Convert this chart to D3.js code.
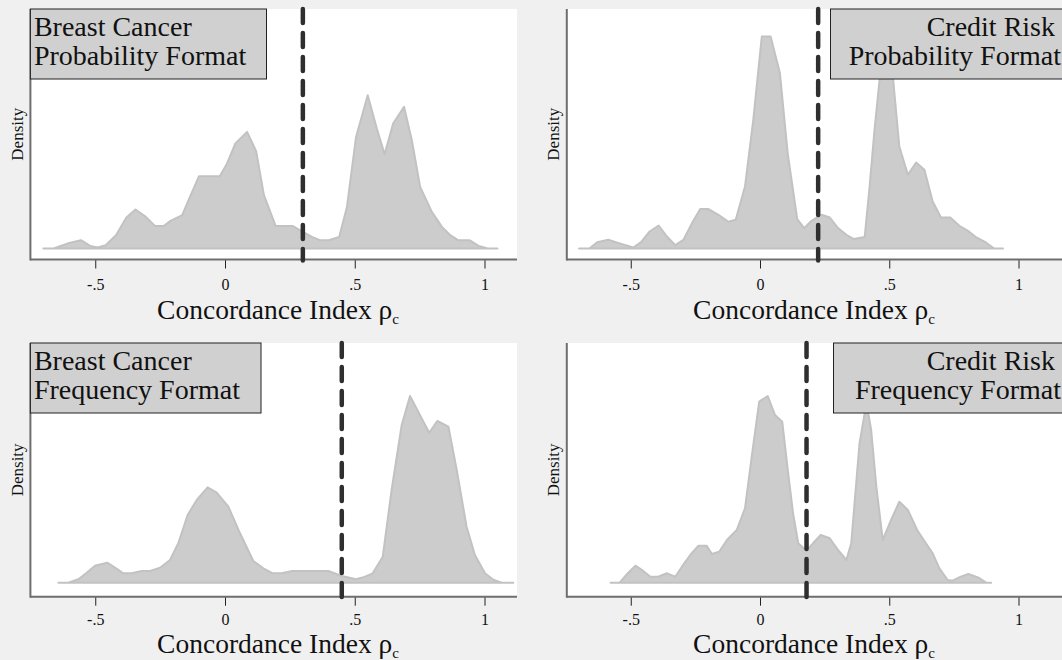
<!DOCTYPE html>
<html>
<head>
<meta charset="utf-8">
<script src="https://cdn.jsdelivr.net/npm/d3@7"></script>
<style>
  html, body { margin: 0; padding: 0; background: #f0f0f0; }
  svg { display: block; }
  text { font-family: "Liberation Serif", "Times New Roman", serif; fill: #111; }
</style>
</head>
<body>
<svg id="chart" width="1062" height="660"></svg>
<script>
// Kernel density estimates of the concordance index, one per task/format.
const bcProbX = [-0.70, -0.66, -0.60, -0.555, -0.52, -0.49, -0.46, -0.42, -0.38, -0.345, -0.305, -0.27, -0.235, -0.21, -0.165, -0.135, -0.10, -0.02, 0.008, 0.04, 0.085, 0.12, 0.15, 0.195, 0.26, 0.30, 0.335, 0.365, 0.40, 0.44, 0.47, 0.505, 0.55, 0.585, 0.615, 0.648, 0.69, 0.72, 0.752, 0.797, 0.836, 0.868, 0.898, 0.942, 0.977, 1.01, 1.05];
const bcProbDensity = [0, 0, 0.056, 0.083, 0.026, 0.01, 0.033, 0.133, 0.31, 0.39, 0.316, 0.226, 0.226, 0.276, 0.333, 0.516, 0.723, 0.723, 0.85, 1.05, 1.166, 0.973, 0.533, 0.226, 0.226, 0.166, 0.116, 0.083, 0.083, 0.116, 0.416, 1.116, 1.533, 1.20, 0.943, 1.25, 1.416, 1.083, 0.616, 0.366, 0.216, 0.133, 0.083, 0.083, 0.026, 0.003, 0];

const crProbX = [-0.70, -0.66, -0.63, -0.587, -0.546, -0.49, -0.46, -0.427, -0.392, -0.36, -0.328, -0.296, -0.263, -0.231, -0.199, -0.161, -0.122, -0.094, -0.058, -0.026, 0.007, 0.041, 0.077, 0.107, 0.144, 0.171, 0.199, 0.238, 0.27, 0.302, 0.334, 0.363, 0.405, 0.424, 0.443, 0.465, 0.49, 0.514, 0.539, 0.572, 0.604, 0.636, 0.668, 0.70, 0.736, 0.771, 0.803, 0.835, 0.874, 0.906, 0.94];
const crProbDensity = [0, 0, 0.063, 0.087, 0.054, 0.01, 0.064, 0.17, 0.23, 0.12, 0.034, 0.087, 0.254, 0.394, 0.394, 0.337, 0.267, 0.287, 0.62, 1.287, 2.12, 2.12, 1.754, 0.954, 0.294, 0.204, 0.277, 0.337, 0.31, 0.204, 0.137, 0.094, 0.114, 0.62, 1.187, 1.75, 2.05, 1.72, 1.02, 0.737, 0.86, 0.787, 0.47, 0.31, 0.31, 0.227, 0.18, 0.114, 0.06, 0, 0];

const bcFreqX = [-0.642, -0.604, -0.565, -0.533, -0.501, -0.454, -0.424, -0.392, -0.36, -0.321, -0.289, -0.25, -0.212, -0.18, -0.144, -0.109, -0.067, -0.032, 0.013, 0.058, 0.109, 0.148, 0.184, 0.218, 0.259, 0.302, 0.353, 0.398, 0.45, 0.505, 0.533, 0.569, 0.608, 0.642, 0.681, 0.713, 0.751, 0.787, 0.818, 0.861, 0.893, 0.931, 0.963, 1.002, 1.034, 1.066, 1.111];
const bcFreqDensity = [0, 0, 0.034, 0.10, 0.17, 0.20, 0.15, 0.094, 0.094, 0.117, 0.117, 0.15, 0.227, 0.394, 0.677, 0.827, 0.954, 0.90, 0.76, 0.494, 0.217, 0.144, 0.094, 0.094, 0.117, 0.117, 0.117, 0.117, 0.067, 0.034, 0.054, 0.094, 0.26, 0.927, 1.577, 1.867, 1.677, 1.50, 1.617, 1.56, 1.127, 0.56, 0.277, 0.094, 0.03, 0, 0];

const crFreqX = [-0.578, -0.543, -0.514, -0.482, -0.453, -0.424, -0.394, -0.36, -0.328, -0.302, -0.27, -0.238, -0.206, -0.186, -0.158, -0.128, -0.09, -0.058, -0.032, -0.003, 0.03, 0.058, 0.086, 0.109, 0.128, 0.148, 0.18, 0.205, 0.235, 0.27, 0.302, 0.334, 0.353, 0.385, 0.412, 0.43, 0.45, 0.475, 0.507, 0.539, 0.572, 0.608, 0.642, 0.668, 0.694, 0.726, 0.745, 0.777, 0.806, 0.843, 0.875, 0.894];
const crFreqDensity = [0, 0, 0.087, 0.17, 0.12, 0.06, 0.06, 0.094, 0.06, 0.16, 0.277, 0.37, 0.37, 0.287, 0.31, 0.427, 0.527, 0.744, 1.26, 1.81, 1.867, 1.677, 1.61, 1.094, 0.694, 0.394, 0.32, 0.394, 0.477, 0.444, 0.327, 0.227, 0.394, 1.394, 1.80, 1.527, 0.96, 0.427, 0.627, 0.81, 0.727, 0.527, 0.394, 0.294, 0.144, 0.027, 0.02, 0.06, 0.087, 0.053, 0, 0];

// Reference value drawn as the dashed vertical line in each panel.
const cutoffs = [0.30, 0.225, 0.45, 0.18];

const panelTitles = [
  ["Breast Cancer", "Probability Format"],
  ["Credit Risk", "Probability Format"],
  ["Breast Cancer", "Frequency Format"],
  ["Credit Risk", "Frequency Format"]
];

const xTicks = [-0.5, 0, 0.5, 1];
const xTickLabels = ["-.5", "0", ".5", "1"];
const xTitle = "Concordance Index ";
const yTitle = "Density";

// ---------------------------------------------------------------------------
const series = [
  { x: bcProbX, d: bcProbDensity },
  { x: crProbX, d: crProbDensity },
  { x: bcFreqX, d: bcFreqDensity },
  { x: crFreqX, d: crFreqDensity }
];

// Layout of the 2x2 grid
const cols = [
  { left: 30.4, right: 517, zero: 225, unit: 259.5, titleX: 278, labelX: 23, boxAlign: "left" },
  { left: 566.8, right: 1075, zero: 760, unit: 258.5, titleX: 814, labelX: 559, boxAlign: "right" }
];
const rows = [
  { top: 9, base: 248.5, axis: 259.5, tickY: 290, titleY: 319 },
  { top: 343, base: 582.7, axis: 596.7, tickY: 625, titleY: 653 }
];
const boxes = [
  { x0: 30.4, x1: 266.5 },
  { x0: 830.5, x1: 1075 },
  { x0: 30.4, x1: 261 },
  { x0: 833.5, x1: 1075 }
];

const svg = d3.select("#chart");
svg.append("rect").attr("width", 1062).attr("height", 660).attr("fill", "#f0f0f0");

series.forEach((s, i) => {
  const col = cols[i % 2], row = rows[Math.floor(i / 2)];
  const g = svg.append("g");

  const x = d3.scaleLinear()
    .domain([(col.left - col.zero) / col.unit, (col.right - col.zero) / col.unit])
    .range([col.left, col.right]);
  const y = d3.scaleLinear().domain([0, 2.4]).range([row.base, row.base - 240]);

  // plot region
  g.append("rect")
    .attr("x", col.left).attr("y", row.top)
    .attr("width", col.right - col.left).attr("height", row.axis - row.top)
    .attr("fill", "#ffffff");

  // density area
  const pts = s.x.map((v, k) => [v, s.d[k]]);
  const area = d3.area().x(p => x(p[0])).y0(y(0)).y1(p => y(p[1]));
  g.append("path")
    .datum(pts)
    .attr("d", area)
    .attr("fill", "#cccccc")
    .attr("stroke", "#c2c2c2")
    .attr("stroke-width", 2)
    .attr("stroke-linejoin", "round");

  // x axis
  const axis = d3.axisBottom(x).tickValues(xTicks)
    .tickFormat((d, k) => xTickLabels[k]).tickSize(9).tickPadding(0);
  const ax = g.append("g").attr("transform", `translate(0,${row.axis})`).call(axis);
  ax.select(".domain").remove();
  ax.selectAll(".tick line").attr("stroke", "#222").attr("stroke-width", 1);
  ax.selectAll(".tick text")
    .attr("y", row.tickY - row.axis)
    .attr("dy", null)
    .attr("fill", "#111")
    .style("font-family", "'Liberation Serif', serif")
    .style("font-size", "16px");

  g.append("line")
    .attr("x1", col.left).attr("x2", col.right)
    .attr("y1", row.axis).attr("y2", row.axis)
    .attr("stroke", "#6e6e6e").attr("stroke-width", 2);
  g.append("line")
    .attr("x1", col.left).attr("x2", col.left)
    .attr("y1", row.top).attr("y2", row.axis + 1)
    .attr("stroke", "#6e6e6e").attr("stroke-width", 2);

  // axis titles
  const title = g.append("text")
    .attr("x", col.titleX)
    .attr("y", row.titleY)
    .attr("text-anchor", "middle")
    .style("font-size", "27.5px");
  title.append("tspan").text(xTitle);
  title.append("tspan").text("ρ");
  title.append("tspan").attr("dy", 5).style("font-size", "15px").text("c");

  g.append("text")
    .attr("transform", `translate(${col.labelX},${(row.top + row.axis) / 2}) rotate(-90)`)
    .attr("text-anchor", "middle")
    .style("font-size", "17px")
    .text(yTitle);

  // dashed reference line
  g.append("line")
    .attr("x1", x(cutoffs[i])).attr("x2", x(cutoffs[i]))
    .attr("y1", row.top).attr("y2", row.axis + 1)
    .attr("stroke", "#2f2f2f").attr("stroke-width", 4.5)
    .attr("stroke-linecap", "round")
    .attr("stroke-dasharray", "14 10");

  // panel label box
  const b = boxes[i];
  g.append("rect")
    .attr("x", b.x0).attr("y", row.top)
    .attr("width", b.x1 - b.x0).attr("height", 70)
    .attr("fill", "#d0d0d0").attr("stroke", "#222").attr("stroke-width", 1);
  panelTitles[i].forEach((t, k) => {
    g.append("text")
      .attr("x", col.boxAlign === "left" ? b.x0 + 3.5 : (k === 0 ? 1055 : 1061))
      .attr("y", row.top + 26.5 + k * 29)
      .attr("text-anchor", col.boxAlign === "left" ? "start" : "end")
      .style("font-size", "28px")
      .text(t);
  });
});
</script>
</body>
</html>
